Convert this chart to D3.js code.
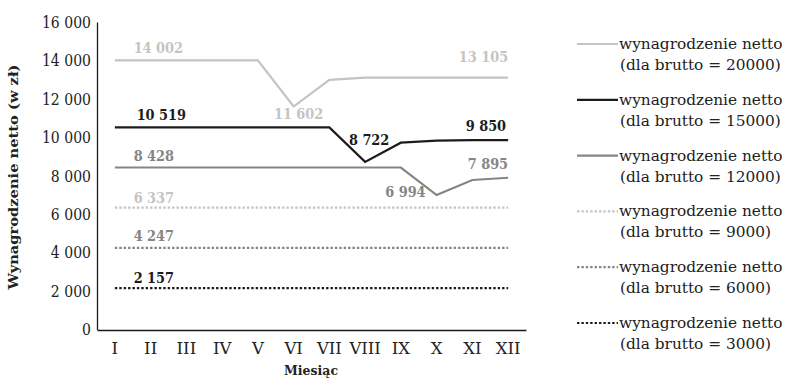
<!DOCTYPE html>
<html>
<head>
<meta charset="utf-8">
<script src="https://cdn.jsdelivr.net/npm/d3@7"></script>
<style>
  html, body { margin: 0; padding: 0; background: #fff; }
  svg { display: block; }
</style>
</head>
<body>
<svg id="chart" width="788" height="380"></svg>
<script>
// Months on the x axis
const months = ["I", "II", "III", "IV", "V", "VI", "VII", "VIII", "IX", "X", "XI", "XII"];

// Gross salary for each series (PLN)
const brutto = [20000, 15000, 12000, 9000, 6000, 3000];

// Monthly net salary for each gross level (PLN)
const netto20000 = [14002, 14002, 14002, 14002, 14002, 11602, 12990, 13105, 13105, 13105, 13105, 13105];
const netto15000 = [10519, 10519, 10519, 10519, 10519, 10519, 10519, 8722, 9720, 9830, 9850, 9850];
const netto12000 = [8428, 8428, 8428, 8428, 8428, 8428, 8428, 8428, 8428, 6994, 7780, 7895];
const netto9000  = [6337, 6337, 6337, 6337, 6337, 6337, 6337, 6337, 6337, 6337, 6337, 6337];
const netto6000  = [4247, 4247, 4247, 4247, 4247, 4247, 4247, 4247, 4247, 4247, 4247, 4247];
const netto3000  = [2157, 2157, 2157, 2157, 2157, 2157, 2157, 2157, 2157, 2157, 2157, 2157];

// Y axis ticks
const yTicks = [0, 2000, 4000, 6000, 8000, 10000, 12000, 14000, 16000];

const values = [netto20000, netto15000, netto12000, netto9000, netto6000, netto3000];

// Line styling per series
const colors = ["#c4c4c4", "#1c1c1c", "#858585", "#c4c4c4", "#858585", "#1c1c1c"];
const dashes = [null, null, null, "2.4,2", "2.4,2", "2.4,2"];

// Value labels: series index, month index, offsets and anchor
const labels = [
  { s: 0, i: 1,  dx: -17, dy: -7,  anchor: "start" },
  { s: 0, i: 5,  dx: 5,   dy: 12,  anchor: "middle" },
  { s: 0, i: 11, dx: 0,   dy: -16, anchor: "end" },
  { s: 1, i: 1,  dx: -14, dy: -7,  anchor: "start" },
  { s: 1, i: 7,  dx: 4,   dy: -17, anchor: "middle" },
  { s: 1, i: 11, dx: -2,  dy: -9,  anchor: "end" },
  { s: 2, i: 1,  dx: -17, dy: -7,  anchor: "start" },
  { s: 2, i: 9,  dx: -11, dy: 2,   anchor: "end" },
  { s: 2, i: 11, dx: 0,   dy: -9,  anchor: "end" },
  { s: 3, i: 1,  dx: -17, dy: -5,  anchor: "start" },
  { s: 4, i: 1,  dx: -17, dy: -7,  anchor: "start" },
  { s: 5, i: 1,  dx: -17, dy: -5,  anchor: "start" }
];

const SERIF = "'DejaVu Serif', 'Liberation Serif', serif";

// Narrow the wide serif face so text keeps a Times-like width
function condense(sel, k) {
  sel.each(function () {
    const w = this.getComputedTextLength();
    d3.select(this).attr("textLength", w * k).attr("lengthAdjust", "spacingAndGlyphs");
  });
}

const pl = d3.formatLocale({ decimal: ",", thousands: " ", grouping: [3], currency: ["", ""] });
const fmt = pl.format(",d");

const svg = d3.select("#chart").style("font-family", SERIF);

const x = d3.scaleBand().domain(months).range([97, 526]);
const y = d3.scaleLinear().domain([0, 16000]).range([329.5, 22]);
const cx = m => x(m) + x.bandwidth() / 2;

// Y axis
const yAxis = svg.append("g")
  .attr("transform", "translate(97,0)")
  .call(d3.axisLeft(y).tickValues(yTicks).tickFormat(fmt).tickSize(0).tickSizeOuter(0).tickPadding(6));
yAxis.attr("font-family", null);
yAxis.select(".domain").attr("stroke", "#1a1a1a").attr("stroke-width", 1.3);
yAxis.selectAll("text")
  .style("font-family", SERIF)
  .attr("font-size", 16.5)
  .attr("fill", "#222")
  .call(condense, 0.85);

// X axis
const xAxis = svg.append("g")
  .attr("transform", "translate(0,330)")
  .call(d3.axisBottom(x).tickSize(0).tickSizeOuter(0).tickPadding(12));
xAxis.attr("font-family", null);
xAxis.select(".domain").attr("stroke", "#1a1a1a").attr("stroke-width", 1.3);
xAxis.selectAll("text")
  .style("font-family", SERIF)
  .attr("font-size", 16.5)
  .attr("fill", "#222")
  .call(condense, 1.0);

// Series lines
const line = d3.line().x((d, i) => cx(months[i])).y(d => y(d));
values.forEach((vals, s) => {
  svg.append("path")
    .datum(vals)
    .attr("fill", "none")
    .attr("stroke", colors[s])
    .attr("stroke-width", 2.2)
    .attr("stroke-dasharray", dashes[s])
    .attr("d", line);
});

// Value labels
labels.forEach(l => {
  const v = values[l.s][l.i];
  svg.append("text")
    .attr("x", cx(months[l.i]) + l.dx)
    .attr("y", y(v) + l.dy)
    .attr("text-anchor", l.anchor)
    .style("font-family", SERIF)
    .attr("font-size", 15)
    .attr("font-weight", "bold")
    .attr("fill", colors[l.s])
    .text(fmt(v))
    .call(condense, 0.86);
});

// Axis titles
svg.append("text")
  .attr("transform", "translate(18,177) rotate(-90)")
  .attr("text-anchor", "middle")
  .style("font-family", SERIF)
  .attr("font-size", 12.5)
  .attr("font-weight", "bold")
  .attr("fill", "#222")
  .attr("textLength", 225)
  .attr("lengthAdjust", "spacingAndGlyphs")
  .text("Wynagrodzenie netto (w zł)");

svg.append("text")
  .attr("x", 311)
  .attr("y", 375)
  .attr("text-anchor", "middle")
  .style("font-family", SERIF)
  .attr("font-size", 12.5)
  .attr("font-weight", "bold")
  .attr("fill", "#222")
  .attr("textLength", 54)
  .attr("lengthAdjust", "spacingAndGlyphs")
  .text("Miesiąc");

// Legend
const legend = svg.append("g");
brutto.forEach((b, s) => {
  const ly = 44 + s * 55.8;
  legend.append("line")
    .attr("x1", 577).attr("x2", 618)
    .attr("y1", ly).attr("y2", ly)
    .attr("stroke", colors[s])
    .attr("stroke-width", 2.2)
    .attr("stroke-dasharray", dashes[s]);
  legend.append("text")
    .attr("x", 619).attr("y", ly + 5)
    .style("font-family", SERIF)
    .attr("font-size", 15.5)
    .attr("fill", "#222")
    .text("wynagrodzenie netto")
    .call(condense, 0.99);
  legend.append("text")
    .attr("x", 620).attr("y", ly + 26)
    .style("font-family", SERIF)
    .attr("font-size", 15.5)
    .attr("fill", "#222")
    .text(`(dla brutto = ${b})`)
    .call(condense, 0.99);
});
</script>
</body>
</html>
